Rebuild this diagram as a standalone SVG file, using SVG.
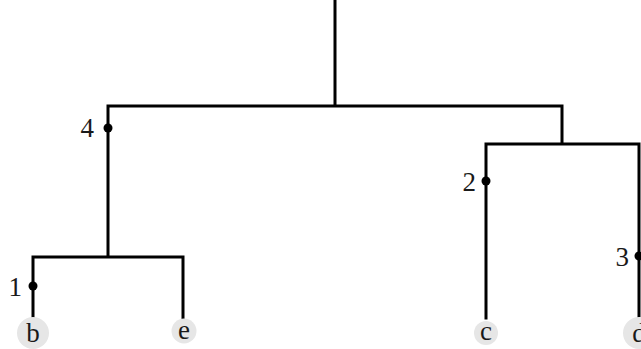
<svg xmlns="http://www.w3.org/2000/svg" width="641" height="349" viewBox="0 0 641 349">
<style>
.e{stroke:#000;stroke-width:3;fill:none;stroke-linecap:square}
.dot{fill:#000}
.leaf{fill:#e6e6e6}
text{font-family:"Liberation Serif","DejaVu Serif",serif;font-size:27px;fill:#1a1a1a}
.lbl{text-anchor:end}
.lt{text-anchor:middle}
</style>
<rect width="641" height="349" fill="#fff"/>
<g id="connectors">
<path class="e" d="M335,1V106M108,106H562M108,106V257M33,257H183M33,257V318M183,257V318M562,106V144M486,144H639M486,144V318M639,144V318"/>
</g>
<g id="m4"><circle class="dot" cx="108" cy="128" r="4.5"/><text class="lbl" x="94" y="137">4</text></g>
<g id="m1"><circle class="dot" cx="33" cy="286" r="4.5"/><text class="lbl" x="22" y="296">1</text></g>
<g id="m2"><circle class="dot" cx="486" cy="181" r="4.5"/><text class="lbl" x="476" y="191">2</text></g>
<g id="m3"><circle class="dot" cx="639" cy="256" r="4.5"/><text class="lbl" x="629" y="266">3</text></g>
<g id="b"><circle class="leaf" cx="33" cy="333" r="16"/><text class="lt" x="33" y="342">b</text></g>
<g id="e"><circle class="leaf" cx="184" cy="331" r="12.5"/><text class="lt" x="184" y="339">e</text></g>
<g id="c"><circle class="leaf" cx="486" cy="333" r="12"/><text class="lt" x="486" y="340">c</text></g>
<g id="d"><circle class="leaf" cx="639" cy="333" r="16"/><text class="lt" x="639" y="342">d</text></g>
</svg>
